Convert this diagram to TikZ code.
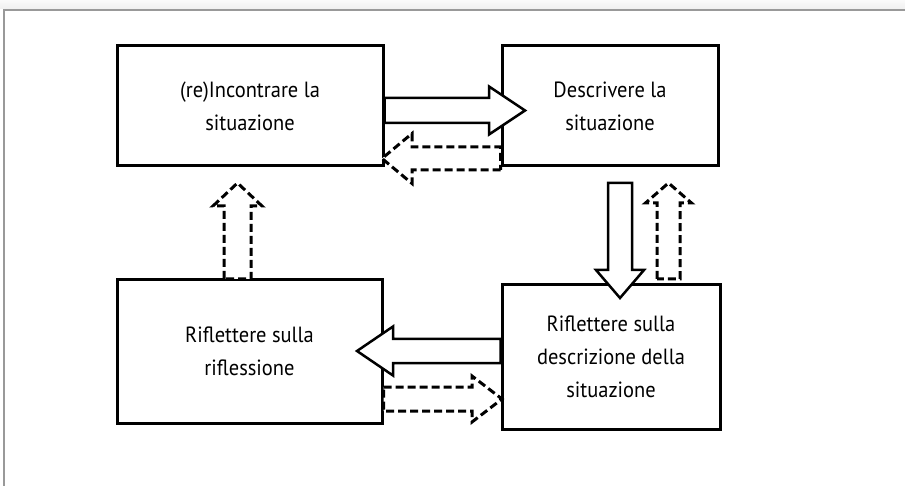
\documentclass[tikz,border=0pt]{standalone}
\usepackage{fontspec}
\setmainfont[FakeStretch=0.93]{PT Sans}
\usetikzlibrary{calc}

% Block arrow: #1 style, #2 tail point, #3 tip point,
% #4 shaft half-width, #5 head half-width, #6 head length
\newcommand\blockarrow[6]{%
  \coordinate (hb) at ($(#3)!#6!(#2)$);
  \draw[#1]
    ($(#2)!#4!90:(#3)$) -- ($(hb)!#4!-90:(#2)$) -- ($(hb)!#5!-90:(#2)$)
    -- (#3) -- ($(hb)!#5!90:(#2)$) -- ($(hb)!#4!90:(#2)$)
    -- ($(#2)!#4!-90:(#3)$) -- cycle;}

\tikzset{
  stagebox/.style={draw=black, line width=3pt, fill=white, inner sep=0pt,
    align=center, font=\fontsize{22}{33}\selectfont, text=black},
  solidarrow/.style={draw=black, line width=2.5pt, fill=white, line join=miter},
  dasharrow/.style={draw=black, line width=3pt, fill=white,
    dash pattern=on 8pt off 4pt, line join=miter},
}

\begin{document}
\begin{tikzpicture}[x=1pt, y=-1pt]
  \useasboundingbox (0,0) rectangle (905,486);
  \fill[white] (0,0) rectangle (905,486);
  % page frame
  \shade[top color=gray!4, bottom color=gray!12] (0,0) rectangle (905,9);
  \draw[gray!80, line width=1.5pt] (4,486) -- (4,10) -- (905,10);

  % stages of the cycle
  \node[stagebox, minimum width=266pt, minimum height=120pt] (meet) at (250,106)
    {(re)Incontrare la\\situazione};
  \node[stagebox, minimum width=216pt, minimum height=120pt] (desc) at (610,106)
    {Descrivere la\\situazione};
  \node[stagebox, minimum width=265pt, minimum height=143pt] (refl) at (249.5,351.5)
    {Riflettere sulla\\riflessione};
  \node[stagebox, minimum width=218pt, minimum height=144pt] (rdesc) at (611,357)
    {Riflettere sulla\\descrizione della\\situazione};

  % arrow end points
  \coordinate (a1) at (meet.east |- 0,110.5);
  \coordinate (a1t) at (525,110.5);
  \coordinate (b1) at (desc.west |- 0,158.5);
  \coordinate (b1t) at (382,158.5);
  \coordinate (c1) at (620,183);
  \coordinate (c1t) at (620,298);
  \coordinate (d1) at (668.5,279);
  \coordinate (d1t) at (668.5,183);
  \coordinate (e1) at (237.5,279);
  \coordinate (e1t) at (237.5,183);
  \coordinate (f1) at (rdesc.west |- 0,351);
  \coordinate (f1t) at (357,351);
  \coordinate (g1) at (refl.east |- 0,399);
  \coordinate (g1t) at (502,399);

  % forward path (solid) and return path (dashed)
  \blockarrow{solidarrow}{a1}{a1t}{12.5pt}{24pt}{36pt}
  \blockarrow{dasharrow}{b1}{b1t}{11.5pt}{25pt}{30pt}
  \blockarrow{solidarrow}{c1}{c1t}{12pt}{24pt}{28pt}
  \blockarrow{dasharrow}{d1}{d1t}{11.5pt}{23pt}{20pt}
  \blockarrow{dasharrow}{e1}{e1t}{13.5pt}{24.5pt}{23pt}
  \blockarrow{solidarrow}{f1}{f1t}{12pt}{24.5pt}{36pt}
  \blockarrow{dasharrow}{g1}{g1t}{12pt}{23pt}{30pt}
\end{tikzpicture}
\end{document}
